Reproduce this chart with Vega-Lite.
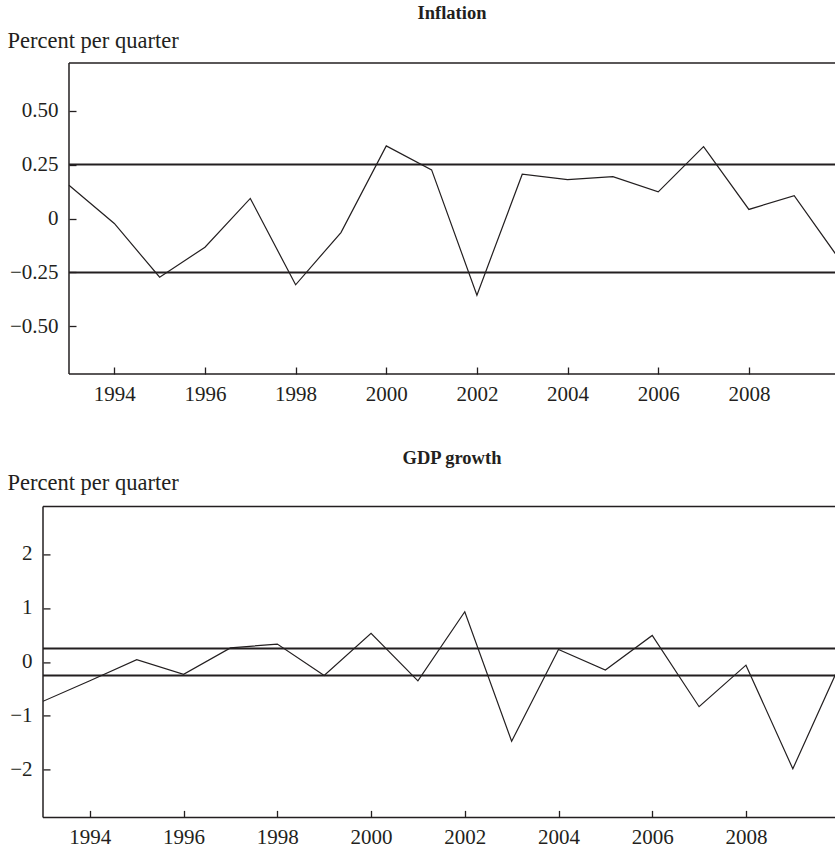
{
  "$schema": "https://vega.github.io/schema/vega-lite/v6.json",
  "padding": {"left": 7, "top": 4, "right": 0, "bottom": 0},
  "spacing": 44.4,
  "columns": 1,
  "background": "white",
  "config": {
    "font": "Liberation Serif",
    "view": {"stroke": null},
    "axis": {
      "grid": false,
      "domain": false,
      "tickColor": "#231f20",
      "tickWidth": 1.3,
      "tickSize": 7,
      "offset": -7,
      "labelColor": "#231f20",
      "labelFont": "Liberation Serif",
      "labelFontSize": 21,
      "titleColor": "#231f20",
      "titleFont": "Liberation Serif",
      "titleFontSize": 22.5,
      "titleFontWeight": "normal"
    },
    "title": {"font": "Liberation Serif", "fontSize": 18.5, "fontWeight": "bold", "color": "#231f20", "frame": "group", "anchor": "middle"}
  },
  "datasets": {
    "inflation": [
      {"year": 1993, "value": 0.154},
      {"year": 1994, "value": -0.023},
      {"year": 1995, "value": -0.272},
      {"year": 1996, "value": -0.133},
      {"year": 1997, "value": 0.093},
      {"year": 1998, "value": -0.307},
      {"year": 1999, "value": -0.065},
      {"year": 2000, "value": 0.336},
      {"year": 2001, "value": 0.225},
      {"year": 2002, "value": -0.355},
      {"year": 2003, "value": 0.205},
      {"year": 2004, "value": 0.18},
      {"year": 2005, "value": 0.194},
      {"year": 2006, "value": 0.123},
      {"year": 2007, "value": 0.333},
      {"year": 2008, "value": 0.042},
      {"year": 2009, "value": 0.106},
      {"year": 2010, "value": -0.19}
    ],
    "gdp": [
      {"year": 1993, "value": -0.73},
      {"year": 1994, "value": -0.35},
      {"year": 1995, "value": 0.04},
      {"year": 1996, "value": -0.23},
      {"year": 1997, "value": 0.26},
      {"year": 1998, "value": 0.33},
      {"year": 1999, "value": -0.25},
      {"year": 2000, "value": 0.53},
      {"year": 2001, "value": -0.35},
      {"year": 2002, "value": 0.93},
      {"year": 2003, "value": -1.47},
      {"year": 2004, "value": 0.23},
      {"year": 2005, "value": -0.15},
      {"year": 2006, "value": 0.49},
      {"year": 2007, "value": -0.83},
      {"year": 2008, "value": -0.06},
      {"year": 2009, "value": -1.98},
      {"year": 2010, "value": -0.06}
    ],
    "bands": [
      {"level": 0.25},
      {"level": -0.25}
    ],
    "frame": [
      {"panel": "border"}
    ]
  },
  "concat": [
    {
      "title": {"text": "Inflation", "dx": 13, "offset": 6.3},
      "width": 792,
      "height": 311,
      "layer": [
        {
          "data": {"name": "bands"},
          "mark": {"type": "rule", "color": "#231f20", "strokeWidth": 2},
          "encoding": {
            "x": {"datum": 1993},
            "x2": {"datum": 2009.9},
            "y": {"field": "level", "type": "quantitative", "scale": {"domain": [-0.72, 0.72], "nice": false, "zero": false}}
          }
        },
        {
          "data": {"name": "frame"},
          "mark": {"type": "rule", "color": "#231f20", "strokeWidth": 1.5},
          "encoding": {"x": {"datum": 1993}, "x2": {"datum": 2009.9}, "y": {"datum": 0.72}}
        },
        {
          "data": {"name": "frame"},
          "mark": {"type": "rule", "color": "#231f20", "strokeWidth": 1.5},
          "encoding": {"x": {"datum": 1993}, "x2": {"datum": 2009.9}, "y": {"datum": -0.72}}
        },
        {
          "data": {"name": "frame"},
          "mark": {"type": "rule", "color": "#231f20", "strokeWidth": 1.5},
          "encoding": {"x": {"datum": 1993}}
        },
        {
          "data": {"name": "inflation"},
          "mark": {"type": "line", "color": "#231f20", "strokeWidth": 1.2, "clip": true},
          "encoding": {
            "x": {"field": "year", "type": "quantitative",
              "scale": {"domain": [1992.4265, 2009.9], "nice": false, "zero": false},
              "axis": {"title": null, "values": [1994, 1996, 1998, 2000, 2002, 2004, 2006, 2008], "format": "d", "labelPadding": 9, "labelFlush": false}},
            "y": {"field": "value", "type": "quantitative",
              "scale": {"domain": [-0.72, 0.72], "nice": false, "zero": false},
              "axis": {"title": "Percent per quarter", "titleAngle": 0, "titleAlign": "left", "titleBaseline": "alphabetic", "titleX": -69, "titleY": -16, "offset": -33,
                "values": [-0.5, -0.25, 0, 0.25, 0.5],
                "labelExpr": "datum.value == 0 ? '0' : replace(format(datum.value, '.2f'), '-', '–')",
                "labelPadding": 11}}
          }
        }
      ]
    },
    {
      "title": {"text": "GDP growth", "dx": 13},
      "width": 792,
      "height": 311,
      "layer": [
        {
          "data": {"name": "bands"},
          "mark": {"type": "rule", "color": "#231f20", "strokeWidth": 2},
          "encoding": {
            "y": {"field": "level", "type": "quantitative", "scale": {"domain": [-2.88, 2.88], "nice": false, "zero": false}}
          }
        },
        {
          "data": {"name": "frame"},
          "mark": {"type": "rule", "color": "#231f20", "strokeWidth": 1.5},
          "encoding": {"y": {"datum": 2.88}}
        },
        {
          "data": {"name": "frame"},
          "mark": {"type": "rule", "color": "#231f20", "strokeWidth": 1.5},
          "encoding": {"y": {"datum": -2.88}}
        },
        {
          "data": {"name": "frame"},
          "mark": {"type": "rule", "color": "#231f20", "strokeWidth": 1.5},
          "encoding": {"x": {"datum": 1993}}
        },
        {
          "data": {"name": "gdp"},
          "mark": {"type": "line", "color": "#231f20", "strokeWidth": 1.2, "clip": true},
          "encoding": {
            "x": {"field": "year", "type": "quantitative",
              "scale": {"domain": [1993, 2009.9], "nice": false, "zero": false},
              "axis": {"title": null, "values": [1994, 1996, 1998, 2000, 2002, 2004, 2006, 2008], "format": "d", "labelPadding": 9, "labelFlush": false}},
            "y": {"field": "value", "type": "quantitative",
              "scale": {"domain": [-2.88, 2.88], "nice": false, "zero": false},
              "axis": {"title": "Percent per quarter", "titleAngle": 0, "titleAlign": "left", "titleBaseline": "alphabetic", "titleX": -43, "titleY": -17,
                "values": [-2, -1, 0, 1, 2],
                "labelExpr": "replace(format(datum.value, 'd'), '-', '–')",
                "labelPadding": 11}}
          }
        }
      ]
    }
  ]
}
